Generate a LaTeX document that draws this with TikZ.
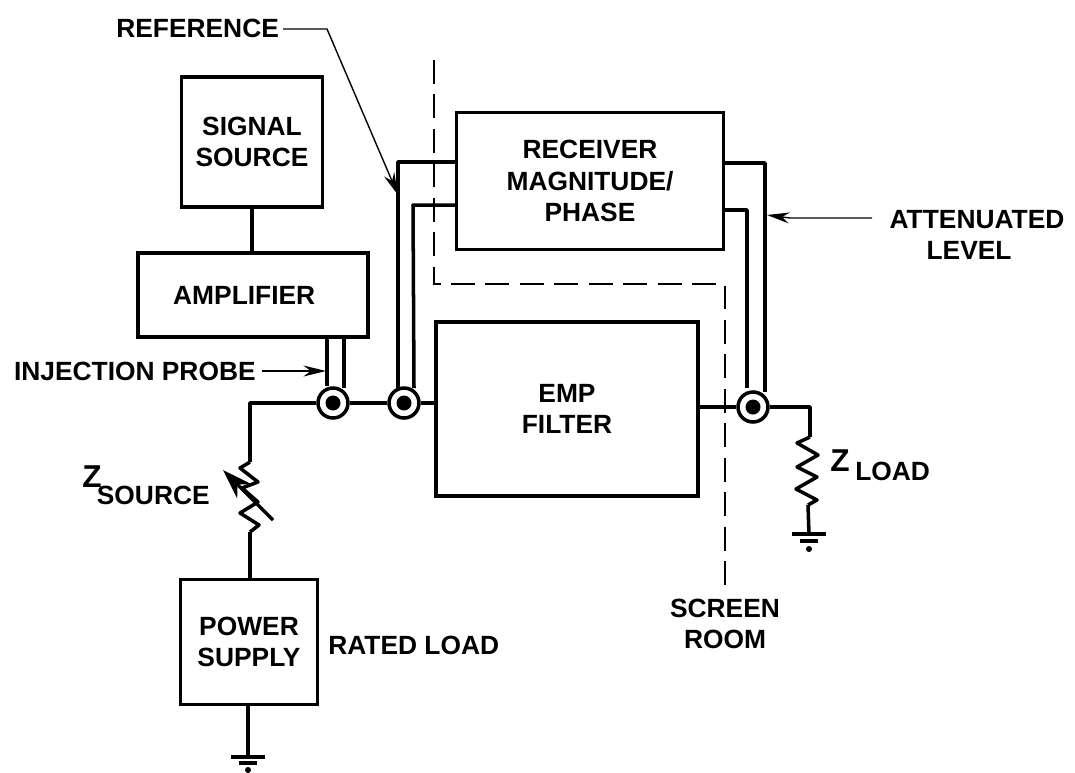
\documentclass[tikz,border=0pt]{standalone}
\usepackage{fontspec}
\setmainfont{Liberation Sans}
\usetikzlibrary{arrows.meta,positioning}

\begin{document}
\begin{tikzpicture}[
    x=0.02cm, y=-0.02cm,
    block/.style={rectangle, draw, line width=2pt, align=center, inner sep=0pt, font=\fontsize{15}{18}\selectfont\bfseries},
    tag/.style={align=center, inner sep=0pt, font=\fontsize{15}{18}\selectfont\bfseries},
    bigz/.style={inner sep=0pt, font=\fontsize{18}{18}\selectfont\bfseries},
    wire/.style={line width=2pt, line join=round},
    arrow/.style={-{Stealth[length=4.5mm,width=2.2mm]}, line width=0.8pt},
    probe/.style={circle, draw, line width=2pt, minimum size=0.6cm, inner sep=0pt},
    dot/.style={circle, fill=black, minimum size=0.3cm, inner sep=0pt},
    screen/.style={line width=0.8pt, dash pattern=on 13.6pt off 6pt}
]
\useasboundingbox (0,0) rectangle (1075,772);

% Boxes
\node[block, minimum width=2.82cm, minimum height=2.6cm] (source) at (252,142) {SIGNAL\\SOURCE};
\node[block, minimum width=4.6cm, minimum height=1.68cm] (amp) at (253,295) {AMPLIFIER\kern10pt};
\node[block, minimum width=5.34cm, minimum height=2.74cm] (receiver) at (590,181) {RECEIVER\\MAGNITUDE/\\PHASE};
\node[block, minimum width=5.24cm, minimum height=3.48cm] (filter) at (567,409) {EMP\\FILTER};
\node[block, minimum width=2.74cm, minimum height=2.5cm] (supply) at (249,642) {POWER\\SUPPLY};

% Probes on the line
\node[probe] (p1) at (333,403) {};
\node[probe] (p2) at (404,403) {};
\node[probe] (p3) at (753,407) {};
\node[dot] at (p1) {};
\node[dot] at (p2) {};
\node[dot] at (p3) {};

% Line
\coordinate (lcorner) at (250,403);
\coordinate (zstop) at (250,462);
\coordinate (zsbot) at (250,532);
\coordinate (rcorner) at (810,407);
\coordinate (zltop) at (810,437);
\coordinate (zlbot) at (808,505);
\coordinate (gl) at (809,534);
\coordinate (gs) at (248,757);

\draw[wire] (source.south) -- (amp.north -| source.south);
\draw[wire] (supply.north -| zsbot) -- (zsbot);
\draw[wire] (zsbot) -- (259,525) -- (240,513) -- (258,502) -- (242,488) -- (258,482) -- (240,468) -- (zstop);
\draw[wire] (zstop) -- (lcorner) -- (p1);
\draw[wire] (p1) -- (p2);
\draw[wire] (p2) -- (filter.west |- p2);
\draw[wire] (filter.east |- p3) -- (p3);
\draw[wire] (p3) -- (rcorner) -- (zltop);
\draw[wire] (zltop) -- (797,443) -- (818,455) -- (797,467) -- (817,477) -- (796,489) -- (817,500) -- (zlbot);
\draw[wire] (zlbot) -- (gl);

% Grounds
\draw[wire] (gl) ++(-17,0) -- ++(34,0) ++(-26,7) -- ++(18,0);
\fill (gl) ++(0,15) circle (3);
\draw[wire] (supply.south -| gs) -- (gs);
\draw[wire] (gs) ++(-17,0) -- ++(34,0) ++(-26,6) -- ++(18,0);
\fill (gs) ++(0,13) circle (3);

% Twin leads
\coordinate (ina) at (327,386);
\coordinate (inb) at (344,388);
\coordinate (refa) at (398,388);
\coordinate (refb) at (414,388);
\coordinate (refc) at (398,162);
\coordinate (refd) at (413,205);
\coordinate (atta) at (765,392);
\coordinate (attb) at (747,388);
\coordinate (attc) at (765,163);
\coordinate (attd) at (747,210);
\draw[wire] (amp.south -| ina) -- (ina);
\draw[wire] (amp.south -| inb) -- (inb);
\draw[wire] (refa) -- (refc) -- (receiver.west |- refc);
\draw[wire] (refb) -- (refd) -- (receiver.west |- refd);
\draw[wire] (receiver.east |- attc) -- (attc) -- (atta);
\draw[wire] (receiver.east |- attd) -- (attd) -- (attb);

% Screen room
\draw[screen] (434,60) -- (434,284) -- (725,284) -- (725,590);

% Labels
\node[tag, anchor=west] (reference) at (116,28) {REFERENCE};
\node[tag, anchor=east] (injection) at (256,371) {INJECTION PROBE};
\node[tag] (attenuated) at (977,235) {ATTENUATED\\LEVEL\kern9pt};
\node[tag, anchor=west] (rated) at (328,645) {RATED LOAD};
\node[tag] (screenroom) at (725,624) {SCREEN\\ROOM};
\node[bigz] (zs) at (92,477) {Z};
\node[tag, anchor=east] (zsname) at (210,495) {SOURCE};
\node[bigz] (zl) at (840,461) {Z};
\node[tag, anchor=west] (zlname) at (855,471) {LOAD};

% Pointers
\coordinate (refbend) at (327,29);
\coordinate (reftip) at (398,195);
\coordinate (injstart) at (262,371);
\coordinate (injtip) at (326,371);
\coordinate (attstart) at (872,218);
\coordinate (attbend) at (790,218);
\coordinate (atttip) at (767,215);
\coordinate (vartail) at (273,520);
\coordinate (vartip) at (223,470);
\draw[arrow] (283,29) -- (refbend) -- (reftip);
\draw[arrow] (injstart) -- (injtip);
\draw[arrow] (attstart) -- (attbend) -- (atttip);
\draw[-{Stealth[length=6mm,width=4mm]}, line width=2pt] (vartail) -- (vartip);
\end{tikzpicture}
\end{document}
